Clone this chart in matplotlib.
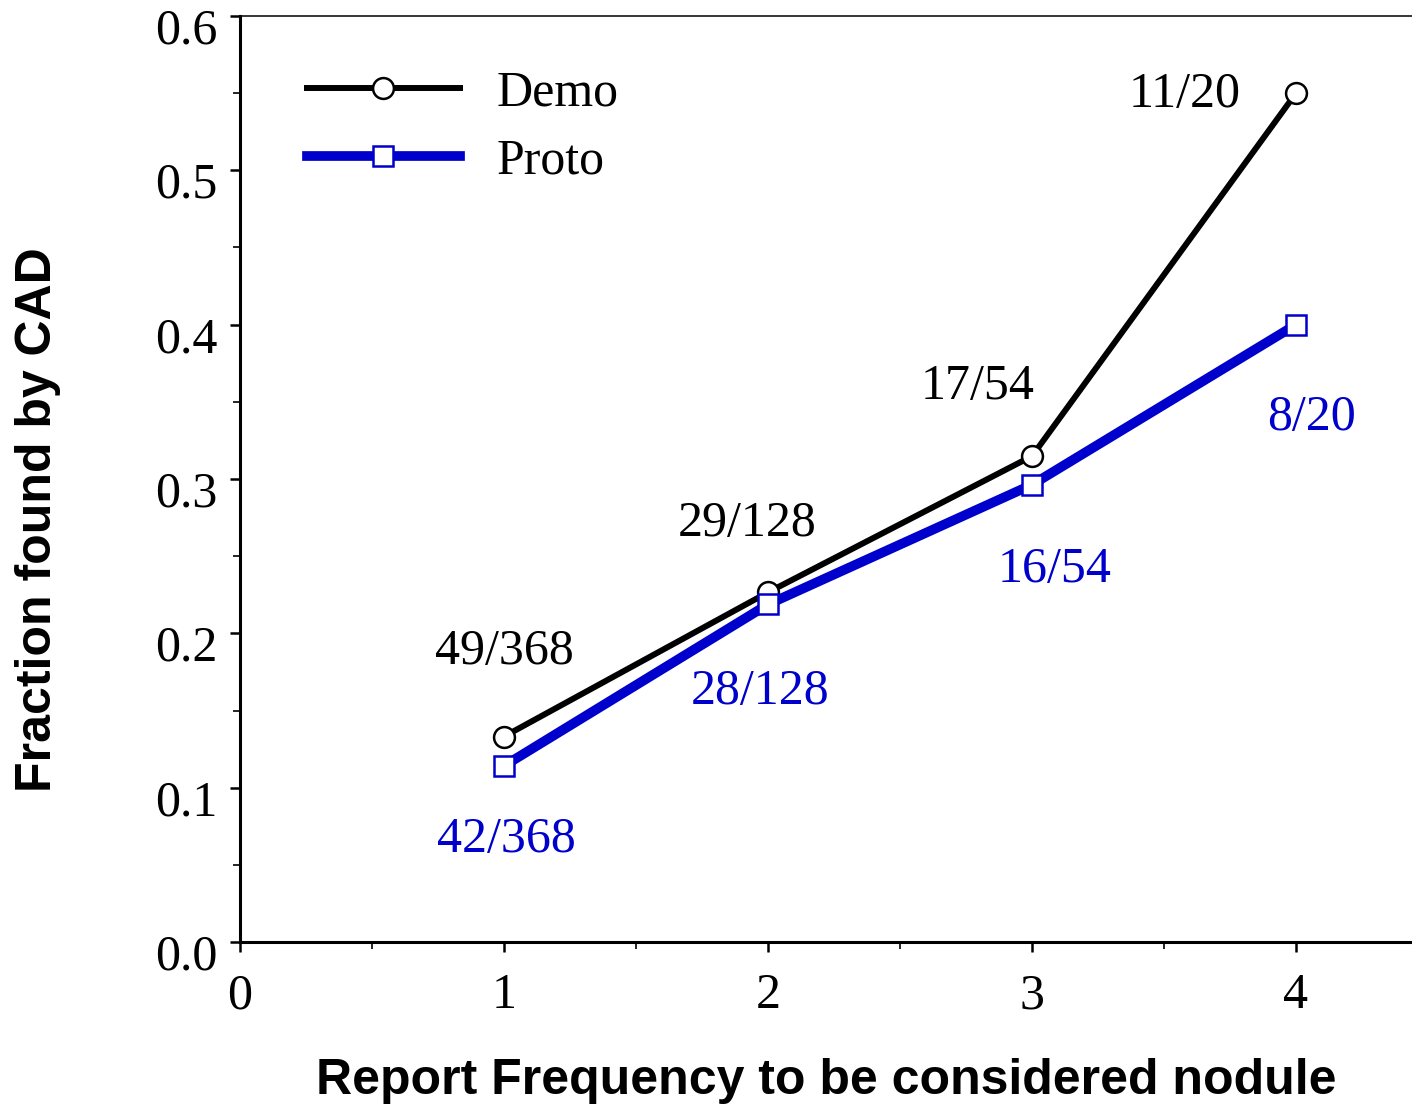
import numpy as np
import matplotlib
matplotlib.use('Agg')
import matplotlib.pyplot as plt
import matplotlib.transforms as mtransforms
from matplotlib.ticker import MultipleLocator, FormatStrFormatter

# data: nodules found by CAD / nodules reported, per report frequency
report_freq = [1, 2, 3, 4]
demo_found = [49, 29, 17, 11]
proto_found = [42, 28, 16, 8]
n_nodules = [368, 128, 54, 20]

demo_frac = np.array(demo_found) / np.array(n_nodules)
proto_frac = np.array(proto_found) / np.array(n_nodules)

# where the count labels sit (data coords)
demo_label_pos = [(1.0, 0.188), (1.92, 0.271), (2.795, 0.360), (3.58, 0.549)]
proto_label_pos = [(1.01, 0.066), (1.97, 0.162), (3.087, 0.241), (4.057, 0.340)]

serif = 'Liberation Serif'
sans = 'Liberation Sans'
blue = '#0000CC'

fig = plt.figure(figsize=(14.12, 11.04), dpi=100)
ax = fig.add_axes([240 / 1412, 1 - 942 / 1104, 1 - 240 / 1412, (942 - 16) / 1104])

ax.plot(report_freq, demo_frac, color='black', lw=4.3, marker='o', ms=15,
        mfc='white', mec='black', mew=1.8, label='Demo', zorder=3)
ax.plot(report_freq, proto_frac, color=blue, lw=7, marker='s', ms=15,
        mfc='white', mec=blue, mew=1.8, label='Proto', zorder=4)

for (x, y), k, n in zip(demo_label_pos, demo_found, n_nodules):
    ax.text(x, y, f"{k}/{n}", ha='center', va='center', fontsize=36,
            family=serif, color='black')
for (x, y), k, n in zip(proto_label_pos, proto_found, n_nodules):
    ax.text(x, y, f"{k}/{n}", ha='center', va='center', fontsize=36,
            family=serif, color=blue)

ax.set_xlim(0, (1412 - 240) / 264)
ax.set_ylim(0, 0.6)
ax.xaxis.set_major_locator(MultipleLocator(1))
ax.xaxis.set_minor_locator(MultipleLocator(0.5))
ax.yaxis.set_major_locator(MultipleLocator(0.1))
ax.yaxis.set_minor_locator(MultipleLocator(0.05))
ax.yaxis.set_major_formatter(FormatStrFormatter('%.1f'))

ax.spines['right'].set_visible(False)
ax.spines['left'].set_linewidth(2.2)
ax.spines['bottom'].set_linewidth(2.2)
ax.spines['top'].set_linewidth(1.1)

ax.tick_params(axis='both', which='major', direction='out', length=7, width=1.8,
               labelsize=36)
ax.tick_params(axis='both', which='minor', direction='out', length=5, width=1.2)
ax.tick_params(axis='y', which='major', pad=9)
ax.tick_params(axis='x', which='major', pad=15)
# y tick labels sit a little below their ticks in the original
down = mtransforms.ScaledTranslation(0, -7 / 72, fig.dpi_scale_trans)
for lbl in ax.get_yticklabels():
    lbl.set_family(serif)
    lbl.set_transform(lbl.get_transform() + down)
for lbl in ax.get_xticklabels():
    lbl.set_family(serif)

ax.set_xlabel("Report Frequency to be considered nodule", fontsize=36,
              fontweight='bold', family=sans, labelpad=28)
fig.text(38 / 1412, 1 - 520 / 1104, "Fraction found by CAD", rotation=90,
         ha='center', va='center', fontsize=36, fontweight='bold', family=sans)

leg = ax.legend(loc='upper left', bbox_to_anchor=(307 / 1412, 1 - 70 / 1104),
                bbox_transform=fig.transFigure, frameon=False,
                prop={'family': serif, 'size': 36}, handlelength=3.05,
                handletextpad=0.75, labelspacing=0.42, borderpad=0, borderaxespad=0)

fig.savefig('out.png', dpi=100)
